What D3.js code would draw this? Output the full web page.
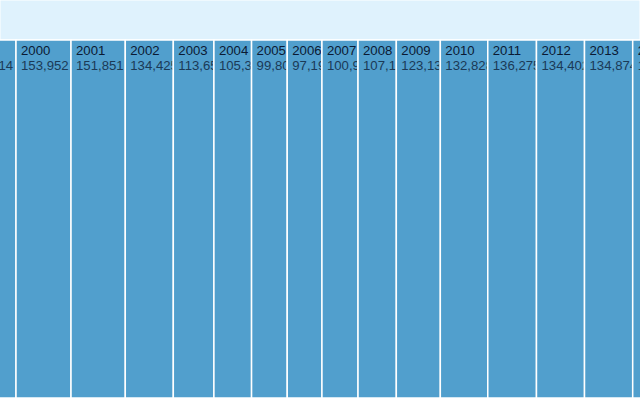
<!DOCTYPE html>
<html>
<head>
<meta charset="utf-8">
<script src="https://cdn.jsdelivr.net/npm/d3@7"></script>
<style>
  body { margin: 0; background: #fff; }
  svg { display: block; font-family: "Liberation Sans", Arial, sans-serif; }
</style>
</head>
<body>
<svg></svg>
<script>
const width = 640;
const height = 400;
const headerHeight = 40;

// years and values (zoomed-in window of the treemap)
const years = ['1999', '2000', '2001', '2002', '2003', '2004', '2005', '2006',
  '2007', '2008', '2009', '2010', '2011', '2012', '2013', '2014'];
const values = [155614, 153952, 151851, 134425, 113650, 105350, 99805, 97195,
  100950, 107150, 123135, 132828, 136275, 134402, 134874, 138200];

const svg = d3.select('svg')
  .attr('width', width)
  .attr('height', height);

// LAYOUT: slice the years side by side
const root = d3.hierarchy({ children: years.map((y, i) => ({ name: y, value: values[i] })) })
  .sum(d => d.value || 0);

d3.treemap()
  .tile(d3.treemapDice)
  .size([1, 1])(root);

const leaves = root.leaves();
const first = leaves.find(d => d.data.name === '2000');
const last = leaves.find(d => d.data.name === '2013');

// zoomed view: 2000 starts at 16px, 2013 ends at 632.7px
const x = d3.scaleLinear()
  .domain([first.x0, last.x1])
  .range([16, 632.7]);
const y = d3.scaleLinear()
  .domain([0, 1])
  .range([headerHeight, 398]);

const fmt = d3.format(',');

// grandparent bar
svg.append('rect')
  .attr('x', 0)
  .attr('y', 0)
  .attr('width', width)
  .attr('height', headerHeight)
  .attr('fill', '#dff2fd')
  .attr('stroke', '#fff');

const defs = svg.append('defs');
defs.selectAll('clipPath')
  .data(leaves)
  .enter().append('clipPath')
  .attr('id', (d, i) => 'clip-' + i)
  .append('rect')
  .attr('x', d => x(d.x0))
  .attr('y', d => y(d.y0))
  .attr('width', d => x(d.x1) - x(d.x0) - 1)
  .attr('height', d => y(d.y1) - y(d.y0));

const cell = svg.append('g')
  .selectAll('g')
  .data(leaves)
  .enter().append('g');

cell.append('rect')
  .attr('x', d => x(d.x0))
  .attr('y', d => y(d.y0))
  .attr('width', d => x(d.x1) - x(d.x0))
  .attr('height', d => y(d.y1) - y(d.y0))
  .attr('fill', '#519fcd')
  .attr('stroke', '#fff')
  .attr('stroke-width', 1.5);

const label = cell.append('text')
  .attr('clip-path', (d, i) => 'url(#clip-' + i + ')')
  .attr('font-size', 13.2);

label.append('tspan')
  .attr('x', d => x(d.x0) + 5)
  .attr('y', d => y(d.y0) + 14.7)
  .attr('fill', '#0b1a33')
  .text(d => d.data.name);

label.append('tspan')
  .attr('x', d => x(d.x0) + 5)
  .attr('y', d => y(d.y0) + 30)
  .attr('fill', '#1b3a57')
  .text(d => fmt(d.data.value));
</script>
</body>
</html>
